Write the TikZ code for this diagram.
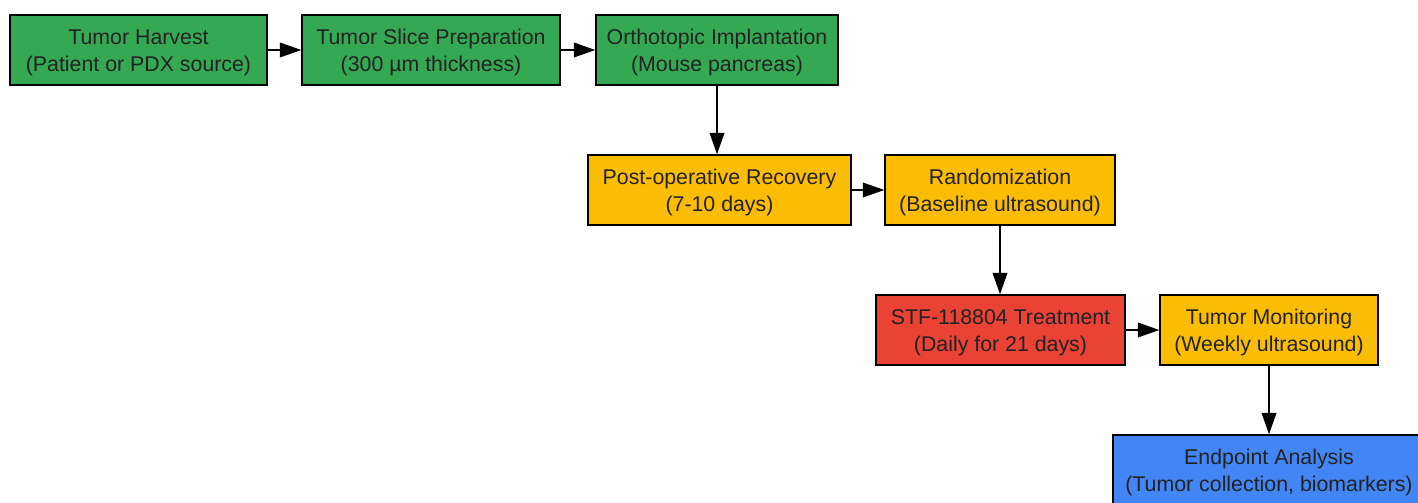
\documentclass[tikz,border=0pt]{standalone}
\usepackage{fontspec}
\setmainfont{Liberation Sans}
\usetikzlibrary{arrows.meta}
\definecolor{gfill}{HTML}{34A853}
\definecolor{yfill}{HTML}{FBBC04}
\definecolor{rfill}{HTML}{EA4335}
\definecolor{bfill}{HTML}{4285F4}
\definecolor{txt}{HTML}{222222}
\newcommand{\twolines}[2]{\raisebox{-2.25pt}[\height][\depth]{\begin{tabular}{@{}c@{}}#1\\#2\end{tabular}}}
\tikzset{
  box/.style={draw=black, line width=1.1pt, inner sep=0pt,
    text=txt, font=\fontsize{16}{20.25}\selectfont, minimum height=70*0.75pt},
  conn/.style={line width=1.1pt, -{Triangle[length=16pt,width=11pt]}},
}
\begin{document}
\begin{tikzpicture}[x=0.75pt,y=-0.75pt]
\useasboundingbox (0,0) rectangle (1418,503);
\clip (0,0) rectangle (1418,503);
\node[box, fill=gfill, minimum width=257*0.75pt] (a) at (138.5,50) {\twolines{Tumor Harvest}{(Patient or PDX source)}};
\node[box, fill=gfill, minimum width=258*0.75pt] (b) at (431,50) {\twolines{Tumor Slice Preparation}{(300 µm thickness)}};
\node[box, fill=gfill, minimum width=242*0.75pt] (c) at (717,50) {\twolines{Orthotopic Implantation}{(Mouse pancreas)}};
\node[box, fill=yfill, minimum width=263*0.75pt] (d) at (719.5,190) {\twolines{Post-operative Recovery}{(7-10 days)}};
\node[box, fill=yfill, minimum width=230*0.75pt] (e) at (1000,190) {\twolines{Randomization}{(Baseline ultrasound)}};
\node[box, fill=rfill, minimum width=249*0.75pt] (f) at (1000.5,330) {\twolines{STF-118804 Treatment}{(Daily for 21 days)}};
\node[box, fill=yfill, minimum width=218*0.75pt] (g) at (1269,330) {\twolines{Tumor Monitoring}{(Weekly ultrasound)}};
\node[box, fill=bfill, minimum width=312*0.75pt] (h) at (1269,470) {\twolines{Endpoint Analysis}{(Tumor collection, biomarkers)}};
\draw[conn] (a) -- (b);
\draw[conn] (b) -- (c);
\draw[conn] (c.south) -- (c.south |- d.north);
\draw[conn] (d) -- (e);
\draw[conn] (e.south) -- (e.south |- f.north);
\draw[conn] (f) -- (g);
\draw[conn] (g.south) -- (g.south |- h.north);
\end{tikzpicture}
\end{document}
